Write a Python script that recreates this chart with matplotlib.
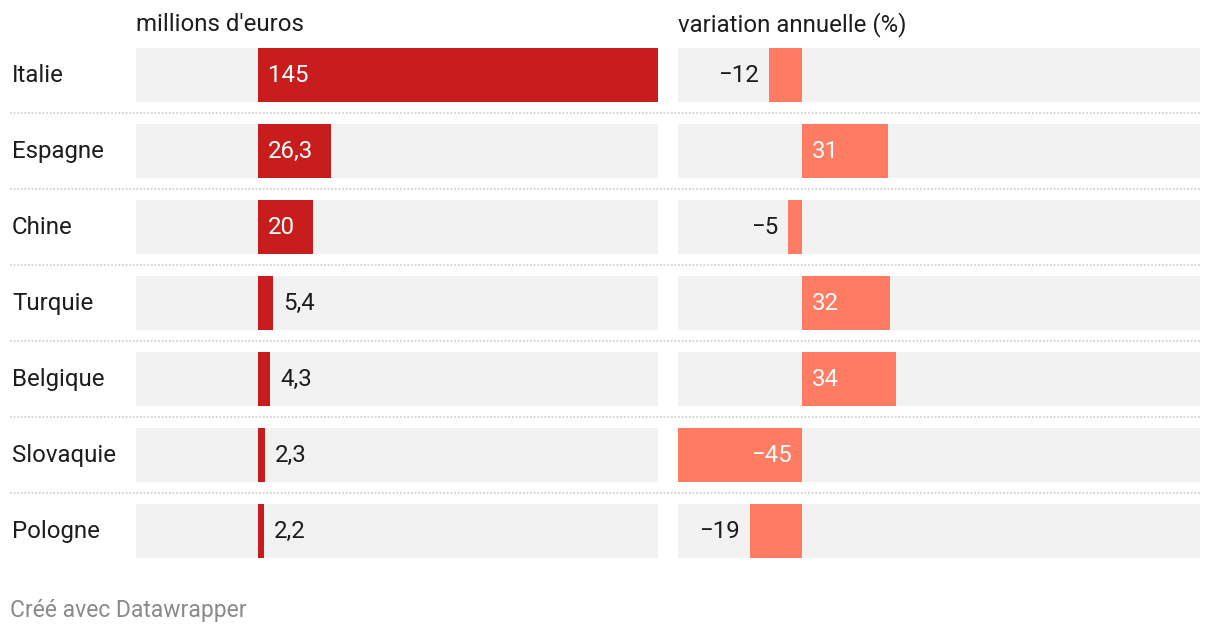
import matplotlib.pyplot as plt
from matplotlib.transforms import blended_transform_factory
from matplotlib.lines import Line2D

# data
countries = ["Italie", "Espagne", "Chine", "Turquie", "Belgique", "Slovaquie", "Pologne"]
millions = [145, 26.3, 20, 5.4, 4.3, 2.3, 2.2]
millions_labels = ["145", "26,3", "20", "5,4", "4,3", "2,3", "2,2"]
variation = [-12, 31, -5, 32, 34, -45, -19]
variation_labels = ["\u221212", "31", "\u22125", "32", "34", "\u221245", "\u221219"]

col_titles = ["millions d'euros", "variation annuelle (%)"]
footer = "Créé avec Datawrapper"

W, H = 1220, 634
plt.rcParams['font.family'] = ['Roboto', 'DejaVu Sans']
FS = 17.3
TXT = "#1d1d1d"
BG = "#f2f2f2"

fig = plt.figure(figsize=(W / 100, H / 100), dpi=100)


def px_axes(x0, y0, w, h):
    return fig.add_axes([x0 / W, 1 - (y0 + h) / H, w / W, h / H])


rows = list(range(len(countries)))
bar_h = 54 / 76

ax_l = px_axes(136, 48, 522, 510)
ax_r = px_axes(678, 48, 522, 510)

fig.canvas.draw()
renderer = fig.canvas.get_renderer()

for ax, lims, vals, labels, color in [(ax_l, (-44.3, 145), millions, millions_labels, "#c71e1d"),
                                      (ax_r, (-45, 144.3), variation, variation_labels, "#ff7b61")]:
    xmin, xmax = lims
    px_per_unit = 522 / (xmax - xmin)
    ax.set_xlim(xmin, xmax)
    ax.set_ylim(len(rows) - 1 + 27 / 76, -27 / 76)
    ax.axis("off")
    ax.barh(rows, [xmax - xmin] * len(rows), left=xmin, height=bar_h, color=BG, linewidth=0)
    ax.barh(rows, vals, height=bar_h, color=color, linewidth=0)
    for y, v, lab in zip(rows, vals, labels):
        t = ax.text(0, 0, lab, fontsize=FS)
        tw = t.get_window_extent(renderer).width
        t.remove()
        inside = abs(v) * px_per_unit > tw + 20
        sign = 1 if v >= 0 else -1
        if inside:
            xy, c = (0, y), "white"
        else:
            xy, c = (v, y), TXT
        ax.annotate(lab, xy=xy, xytext=(10 * sign, 2), textcoords="offset pixels",
                    ha="left" if sign > 0 else "right", va="center_baseline",
                    fontsize=FS, color=c)

# country names
tr = blended_transform_factory(fig.transFigure, ax_l.transData)
for y, name in zip(rows, countries):
    fig.text(12 / W, y - 2 / 76, name, transform=tr, ha="left", va="center_baseline",
             fontsize=FS, color=TXT)

# dotted separators
for y in rows[:-1]:
    fig.add_artist(Line2D([10 / W, 1200 / W], [y + 0.5, y + 0.5], transform=tr,
                          color="#d2d2d2", linewidth=1.3, linestyle=(0, (1, 1))))

fig.text(136 / W, 1 - 22 / H, col_titles[0], ha="left", va="center_baseline",
         fontsize=FS, color=TXT)
fig.text(678 / W, 1 - 22 / H, col_titles[1], ha="left", va="center_baseline",
         fontsize=FS, color=TXT)
fig.text(10 / W, 1 - 608 / H, footer, ha="left", va="center_baseline",
         fontsize=16.5, color="#8a8a8a")

fig.savefig("out.png", dpi=100)
